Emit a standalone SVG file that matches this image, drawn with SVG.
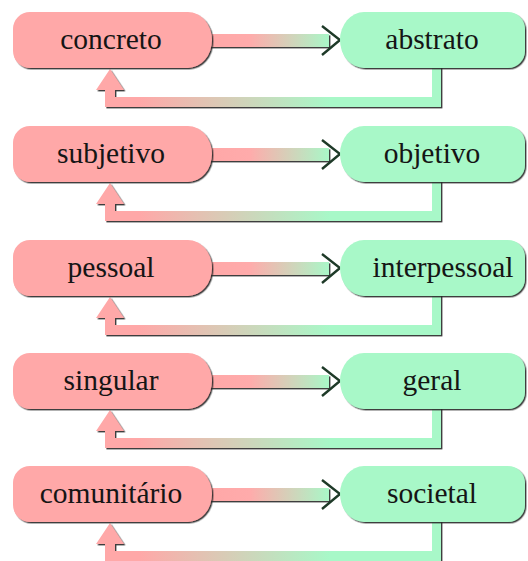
<svg xmlns="http://www.w3.org/2000/svg" width="528" height="561" viewBox="0 0 528 561">
  <defs>
    <linearGradient id="fwd" gradientUnits="userSpaceOnUse" x1="215" y1="0" x2="330" y2="0">
      <stop offset="0" stop-color="#ffa8a8"/>
      <stop offset="0.3" stop-color="#ffabab"/>
      <stop offset="1" stop-color="#a8f8c8"/>
    </linearGradient>
    <linearGradient id="back" gradientUnits="userSpaceOnUse" x1="140" y1="0" x2="330" y2="0">
      <stop offset="0" stop-color="#ffa8a8"/>
      <stop offset="1" stop-color="#a8f8c8"/>
    </linearGradient>
    <filter id="sh" x="-10%" y="-10%" width="120%" height="130%">
      <feDropShadow dx="1.4" dy="1.4" stdDeviation="0.5" flood-color="#2a2a2a" flood-opacity="0.9"/>
    </filter>
  </defs>
  <style>
    .l { fill: #ffa8a8; filter: url(#sh); }
    .r { fill: #a8f8c8; filter: url(#sh); }
    .t { font-family: "Liberation Serif", "Times New Roman", serif; font-size: 29.5px; fill: #151515; text-anchor: middle; }
    .f { fill: url(#fwd); filter: url(#sh); }
    .b { fill: url(#back); filter: url(#sh); }
    .hd { fill: none; stroke: #1e3a28; stroke-width: 2.4; stroke-linejoin: miter; }
  </style>

  <g id="connectors">
    <g transform="translate(0,0)">
      <rect class="f" x="205" y="34" width="124" height="13"/>
      <polyline class="hd" points="322,26 340,40 322,55"/>
      <path class="b" d="M432,66 H441 V107 H105 V90 H96 L110,69 L124,90 H115 V97 H432 Z"/>
    </g>
    <g transform="translate(0,114)">
      <rect class="f" x="205" y="34" width="124" height="13"/>
      <polyline class="hd" points="322,26 340,40 322,55"/>
      <path class="b" d="M432,66 H441 V107 H105 V90 H96 L110,69 L124,90 H115 V97 H432 Z"/>
    </g>
    <g transform="translate(0,228)">
      <rect class="f" x="205" y="34" width="124" height="13"/>
      <polyline class="hd" points="322,26 340,40 322,55"/>
      <path class="b" d="M432,66 H441 V107 H105 V90 H96 L110,69 L124,90 H115 V97 H432 Z"/>
    </g>
    <g transform="translate(0,341)">
      <rect class="f" x="205" y="34" width="124" height="13"/>
      <polyline class="hd" points="322,26 340,40 322,55"/>
      <path class="b" d="M432,66 H441 V107 H105 V90 H96 L110,69 L124,90 H115 V97 H432 Z"/>
    </g>
    <g transform="translate(0,454)">
      <rect class="f" x="205" y="34" width="124" height="13"/>
      <polyline class="hd" points="322,26 340,40 322,55"/>
      <path class="b" d="M432,66 H441 V107 H105 V90 H96 L110,69 L124,90 H115 V97 H432 Z"/>
    </g>
  </g>

  <g id="concreto">
    <path class="l" d="M30,12 H188 A24,28 0 0 1 188,68 H30 A17,17 0 0 1 13,51 V29 A17,17 0 0 1 30,12 Z"/>
    <text class="t" x="111" y="49">concreto</text>
  </g>
  <g id="abstrato">
    <path class="r" d="M364,12 H508 A17,17 0 0 1 525,29 V51 A17,17 0 0 1 508,68 H364 A24,28 0 0 1 364,12 Z"/>
    <text class="t" x="432" y="49">abstrato</text>
  </g>

  <g id="subjetivo" transform="translate(0,114)">
    <path class="l" d="M30,12 H188 A24,28 0 0 1 188,68 H30 A17,17 0 0 1 13,51 V29 A17,17 0 0 1 30,12 Z"/>
    <text class="t" x="111" y="49">subjetivo</text>
  </g>
  <g id="objetivo" transform="translate(0,114)">
    <path class="r" d="M364,12 H508 A17,17 0 0 1 525,29 V51 A17,17 0 0 1 508,68 H364 A24,28 0 0 1 364,12 Z"/>
    <text class="t" x="432" y="49">objetivo</text>
  </g>

  <g id="pessoal" transform="translate(0,228)">
    <path class="l" d="M30,12 H188 A24,28 0 0 1 188,68 H30 A17,17 0 0 1 13,51 V29 A17,17 0 0 1 30,12 Z"/>
    <text class="t" x="111" y="49">pessoal</text>
  </g>
  <g id="interpessoal" transform="translate(0,228)">
    <path class="r" d="M364,12 H508 A17,17 0 0 1 525,29 V51 A17,17 0 0 1 508,68 H364 A24,28 0 0 1 364,12 Z"/>
    <text class="t" x="443" y="49">interpessoal</text>
  </g>

  <g id="singular" transform="translate(0,341)">
    <path class="l" d="M30,12 H188 A24,28 0 0 1 188,68 H30 A17,17 0 0 1 13,51 V29 A17,17 0 0 1 30,12 Z"/>
    <text class="t" x="111" y="49">singular</text>
  </g>
  <g id="geral" transform="translate(0,341)">
    <path class="r" d="M364,12 H508 A17,17 0 0 1 525,29 V51 A17,17 0 0 1 508,68 H364 A24,28 0 0 1 364,12 Z"/>
    <text class="t" x="432" y="49">geral</text>
  </g>

  <g id="comunitario" transform="translate(0,454)">
    <path class="l" d="M30,12 H188 A24,28 0 0 1 188,68 H30 A17,17 0 0 1 13,51 V29 A17,17 0 0 1 30,12 Z"/>
    <text class="t" x="111" y="49">comunitário</text>
  </g>
  <g id="societal" transform="translate(0,454)">
    <path class="r" d="M364,12 H508 A17,17 0 0 1 525,29 V51 A17,17 0 0 1 508,68 H364 A24,28 0 0 1 364,12 Z"/>
    <text class="t" x="432" y="49">societal</text>
  </g>
</svg>
